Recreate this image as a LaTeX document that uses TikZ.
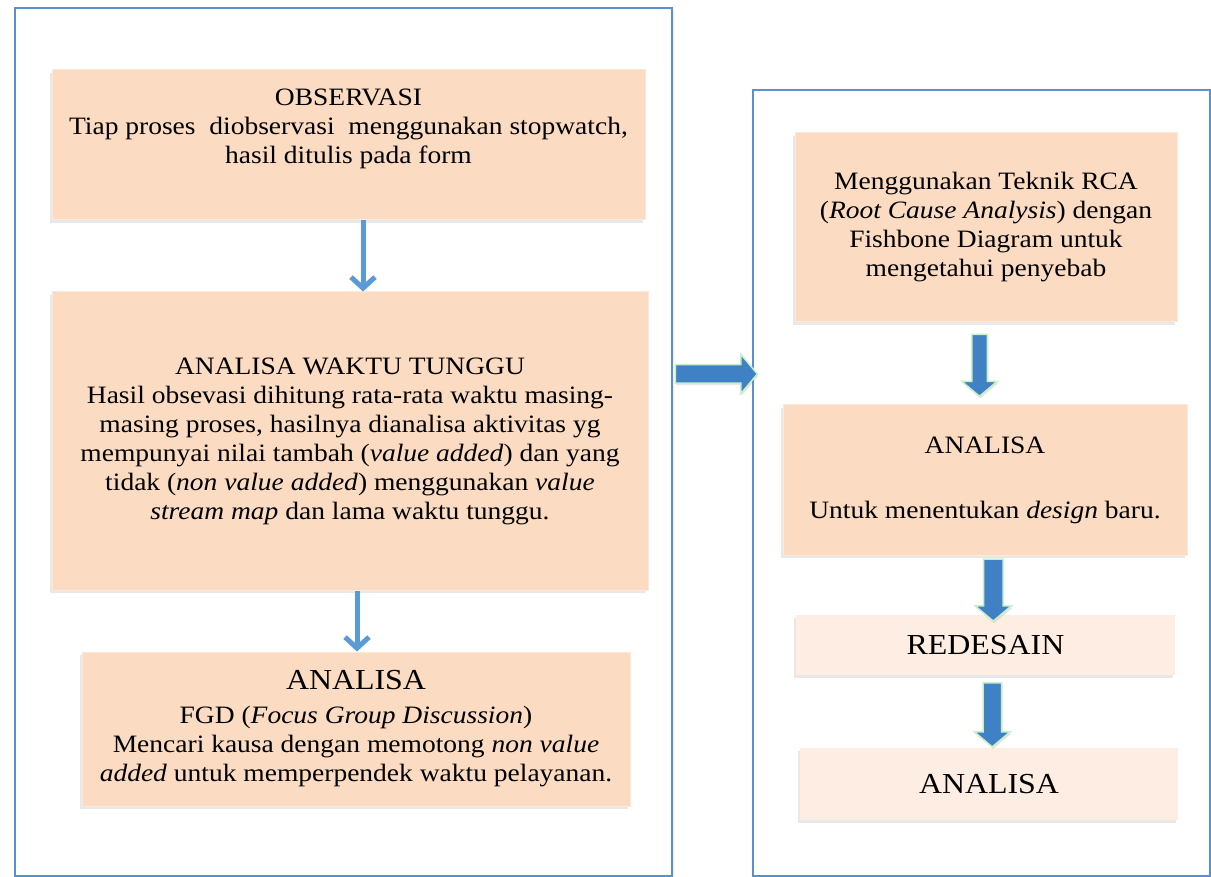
\documentclass[tikz,border=0pt]{standalone}
\usepackage{fontspec}
\setmainfont[FakeStretch=1.1]{Liberation Serif}
\usetikzlibrary{shapes.arrows,shadows,calc,arrows.meta}
\definecolor{framecol}{RGB}{91,143,210}
\definecolor{peach}{RGB}{251,219,193}
\definecolor{peachpale}{RGB}{253,237,226}
\definecolor{arrowcol}{RGB}{91,155,213}
\definecolor{blockcol}{RGB}{64,128,196}
\definecolor{rimcol}{RGB}{200,240,200}
\newcommand{\bodyfont}{\fontsize{25}{29}\selectfont}
\newcommand{\bigfont}{\fontsize{29}{36}\selectfont}

\begin{document}
\begin{tikzpicture}[x=1pt,y=-1pt,
  frame/.style={draw=framecol,line width=2pt,fill=white,inner sep=0pt,
    drop shadow={opacity=0.12,shadow xshift=2pt,shadow yshift=-2pt}},
  stage/.style={fill=peach,draw=peach!60!white,line width=1pt,inner sep=0pt,
    align=center,font=\bodyfont,
    drop shadow={opacity=0.18,shadow xshift=-2pt,shadow yshift=-3pt}},
  palestage/.style={stage,fill=peachpale,draw=none,font=\bigfont},
  thinarrow/.style={draw=arrowcol,line width=5pt,
    -{Straight Barb[width=24pt,length=11pt]}},
  blockarrow/.style={single arrow,fill=blockcol,draw=rimcol,line width=1.5pt,
    inner xsep=0pt,single arrow head indent=0pt,single arrow tip angle=100,
    drop shadow={opacity=0.2,shadow xshift=1pt,shadow yshift=-2pt}}]
\useasboundingbox (0,0) rectangle (1211,877);
% Drawing frames
\node[frame,minimum width=657pt,minimum height=868pt] (leftframe) at (343.5,442) {};
\node[frame,minimum width=457pt,minimum height=786pt] (rightframe) at (981.5,483) {};
% Left column
\node[stage,minimum width=593pt,minimum height=150pt] (obs) at (348.5,145)
  {OBSERVASI\\ Tiap proses\ \ diobservasi\ \ menggunakan stopwatch,\\ hasil ditulis pada form\\ \strut};
\node[stage,minimum width=596pt,minimum height=298pt] (waktu) at (350,441)
  {ANALISA WAKTU TUNGGU\\ Hasil obsevasi dihitung rata-rata waktu masing-\\
   masing proses, hasilnya dianalisa aktivitas yg\\
   mempunyai nilai tambah (\textit{value added}) dan yang\\
   tidak (\textit{non value added}) menggunakan \textit{value}\\
   \textit{stream map} dan lama waktu tunggu.};
\node[stage,minimum width=548pt,minimum height=154pt] (fgd) at (356,729)
  {{\bigfont ANALISA}\\[5pt] FGD (\textit{Focus Group Discussion})\\
   Mencari kausa dengan memotong \textit{non value}\\
   \textit{added} untuk memperpendek waktu pelayanan.};
% Right column
\node[stage,minimum width=382pt,minimum height=189pt] (rca) at (986,227.5)
  {Menggunakan Teknik RCA\\ (\textit{Root Cause Analysis}) dengan\\
   Fishbone Diagram untuk\\ mengetahui penyebab};
\node[stage,minimum width=404pt,minimum height=150pt] (analisab) at (985,480)
  {ANALISA\\[36pt] Untuk menentukan \textit{design} baru.};
\node[palestage,minimum width=379pt,minimum height=60pt] (redesain) at (985.5,645) {REDESAIN};
\node[palestage,minimum width=378pt,minimum height=72pt] (analisac) at (989,784) {ANALISA};
% Connectors
\draw[thinarrow] ([xshift=14.5pt]obs.south) -- ([xshift=14.5pt]obs.south |- waktu.north);
\draw[thinarrow] ([xshift=7pt]waktu.south) -- ([xshift=7pt]waktu.south |- fgd.north);
\node[blockarrow,minimum height=82pt,inner ysep=8.5pt,single arrow head extend=10.5pt]
  (across) at ($(leftframe.east)!0.5!(rightframe.west)+(0,-88.5)$) {};
\node[blockarrow,rotate=-90,minimum height=62pt,inner ysep=7pt,single arrow head extend=10pt]
  (down1) at ($(rca.south)!0.5!(analisab.north)+(-6,-1.5)$) {};
\node[blockarrow,rotate=-90,minimum height=62pt,inner ysep=9pt,single arrow head extend=8.5pt]
  (down2) at ($(analisab.south)!0.5!(redesain.north)+(8,1)$) {};
\node[blockarrow,rotate=-90,minimum height=64pt,inner ysep=8.5pt,single arrow head extend=8.5pt]
  (down3) at ($(redesain.south)!0.5!(analisac.north)+(5,-0.5)$) {};
\end{tikzpicture}
\end{document}
